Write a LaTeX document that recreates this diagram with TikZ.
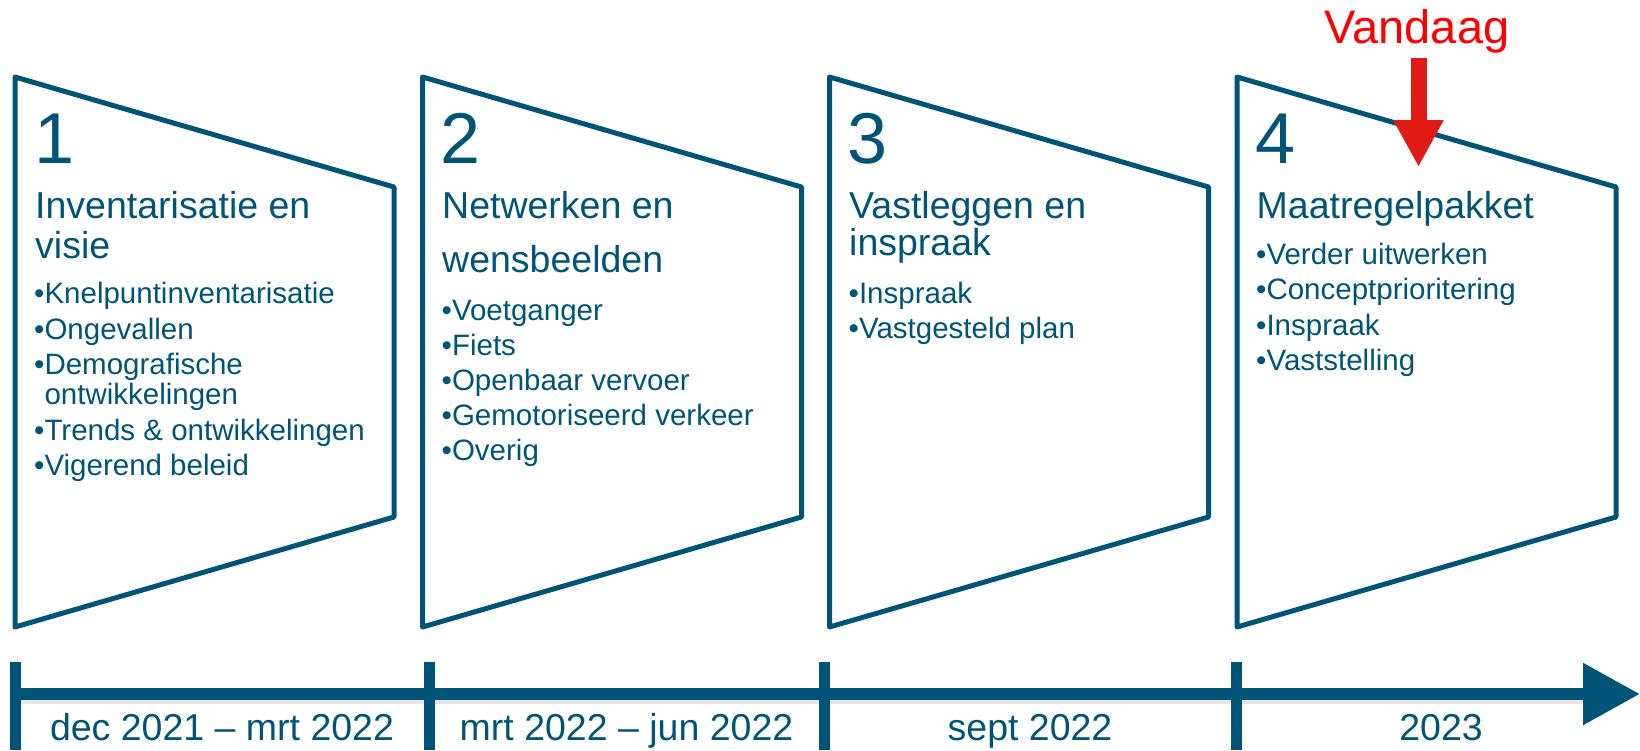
\documentclass[tikz,border=0pt]{standalone}
\usepackage{fontspec}
\setmainfont{Liberation Sans}
\usetikzlibrary{arrows.meta}
\definecolor{tblue}{RGB}{0,84,120}
\definecolor{tred}{RGB}{226,26,20}
\begin{document}
\begin{tikzpicture}[x=1pt,y=-1pt,
  stage/.style={draw=tblue,line width=5pt,line join=round},
  num/.style={anchor=base west,inner sep=0pt,text=tblue,font=\fontsize{72}{80}\selectfont},
  ttl/.style={anchor=base west,inner sep=0pt,text=tblue,font=\fontsize{37.5}{44}\selectfont},
  itm/.style={anchor=base west,inner sep=0pt,text=tblue,font=\fontsize{29.5}{34}\selectfont},
  datelbl/.style={anchor=base,inner sep=0pt,text=tblue,font=\fontsize{37.5}{44}\selectfont},
  tickbar/.style={fill=tblue}]
\useasboundingbox (0,0) rectangle (1640,750);

% stage outlines
\draw[stage] (15,77) -- (394,187) -- (394,517) -- (15,627) -- cycle;
\draw[stage] (422.5,77) -- (801.5,187) -- (801.5,517) -- (422.5,627) -- cycle;
\draw[stage] (829.5,77) -- (1208.5,187) -- (1208.5,517) -- (829.5,627) -- cycle;
\draw[stage] (1237,77) -- (1616,187) -- (1616,517) -- (1237,627) -- cycle;

% stage 1
\node[num] (n1) at (34,163) {1};
\node[ttl] (t1a) at (35,218) {Inventarisatie en};
\node[ttl] (t1b) at (35,258) {visie};
\node[itm] (i1a) at (34,303) {•Knelpuntinventarisatie};
\node[itm] (i1b) at (34,339) {•Ongevallen};
\node[itm] (i1c) at (34,374) {•Demografische};
\node[itm] (i1d) at (34,404) {\phantom{•}ontwikkelingen};
\node[itm] (i1e) at (34,440) {•Trends \& ontwikkelingen};
\node[itm] (i1f) at (34,475) {•Vigerend beleid};

% stage 2
\node[num] (n2) at (440.5,163) {2};
\node[ttl] (t2a) at (442,218) {Netwerken en};
\node[ttl] (t2b) at (442,272) {wensbeelden};
\node[itm] (i2a) at (441.5,320) {•Voetganger};
\node[itm] (i2b) at (441.5,355) {•Fiets};
\node[itm] (i2c) at (441.5,390) {•Openbaar vervoer};
\node[itm] (i2d) at (441.5,425) {•Gemotoriseerd verkeer};
\node[itm] (i2e) at (441.5,460) {•Overig};

% stage 3
\node[num] (n3) at (847.5,163) {3};
\node[ttl] (t3a) at (849,218) {Vastleggen en};
\node[ttl] (t3b) at (849,255) {inspraak};
\node[itm] (i3a) at (848.5,303) {•Inspraak};
\node[itm] (i3b) at (848.5,338) {•Vastgesteld plan};

% stage 4
\node[num] (n4) at (1255,163) {4};
\node[ttl] (t4a) at (1256.5,218) {Maatregelpakket};
\node[itm] (i4a) at (1256,264) {•Verder uitwerken};
\node[itm] (i4b) at (1256,299) {•Conceptprioritering};
\node[itm] (i4c) at (1256,335) {•Inspraak};
\node[itm] (i4d) at (1256,370) {•Vaststelling};

% today marker
\node[anchor=base,inner sep=0pt,text=red,font=\fontsize{47}{52}\selectfont] (vd) at (1417,43) {Vandaag};
\coordinate (vs) at (1418.5,58);
\coordinate (ve) at (1418.5,167);
\draw[tred,line width=16pt,-{Triangle[length=47pt,width=47pt]}] (vs) -- (ve);

% timeline
\coordinate (tl0) at (15,694);
\coordinate (tl1) at (1640,694);
\draw[black!10,line width=4pt] (18,702) -- (1583,702);
\draw[tblue,line width=12pt,-{Triangle[length=57pt,width=59pt]}] (tl0) -- (tl1);
\fill[tickbar] (9.5,662) rectangle (20.5,750);
\fill[tickbar] (423.5,662) rectangle (434.5,750);
\fill[tickbar] (818.5,662) rectangle (829.5,750);
\fill[tickbar] (1230.5,662) rectangle (1241.5,750);

\node[datelbl] (d1) at (222,740) {dec 2021 – mrt 2022};
\node[datelbl] (d2) at (626.5,740) {mrt 2022 – jun 2022};
\node[datelbl] (d3) at (1030,740) {sept 2022};
\node[datelbl] (d4) at (1441,740) {2023};
\end{tikzpicture}
\end{document}
